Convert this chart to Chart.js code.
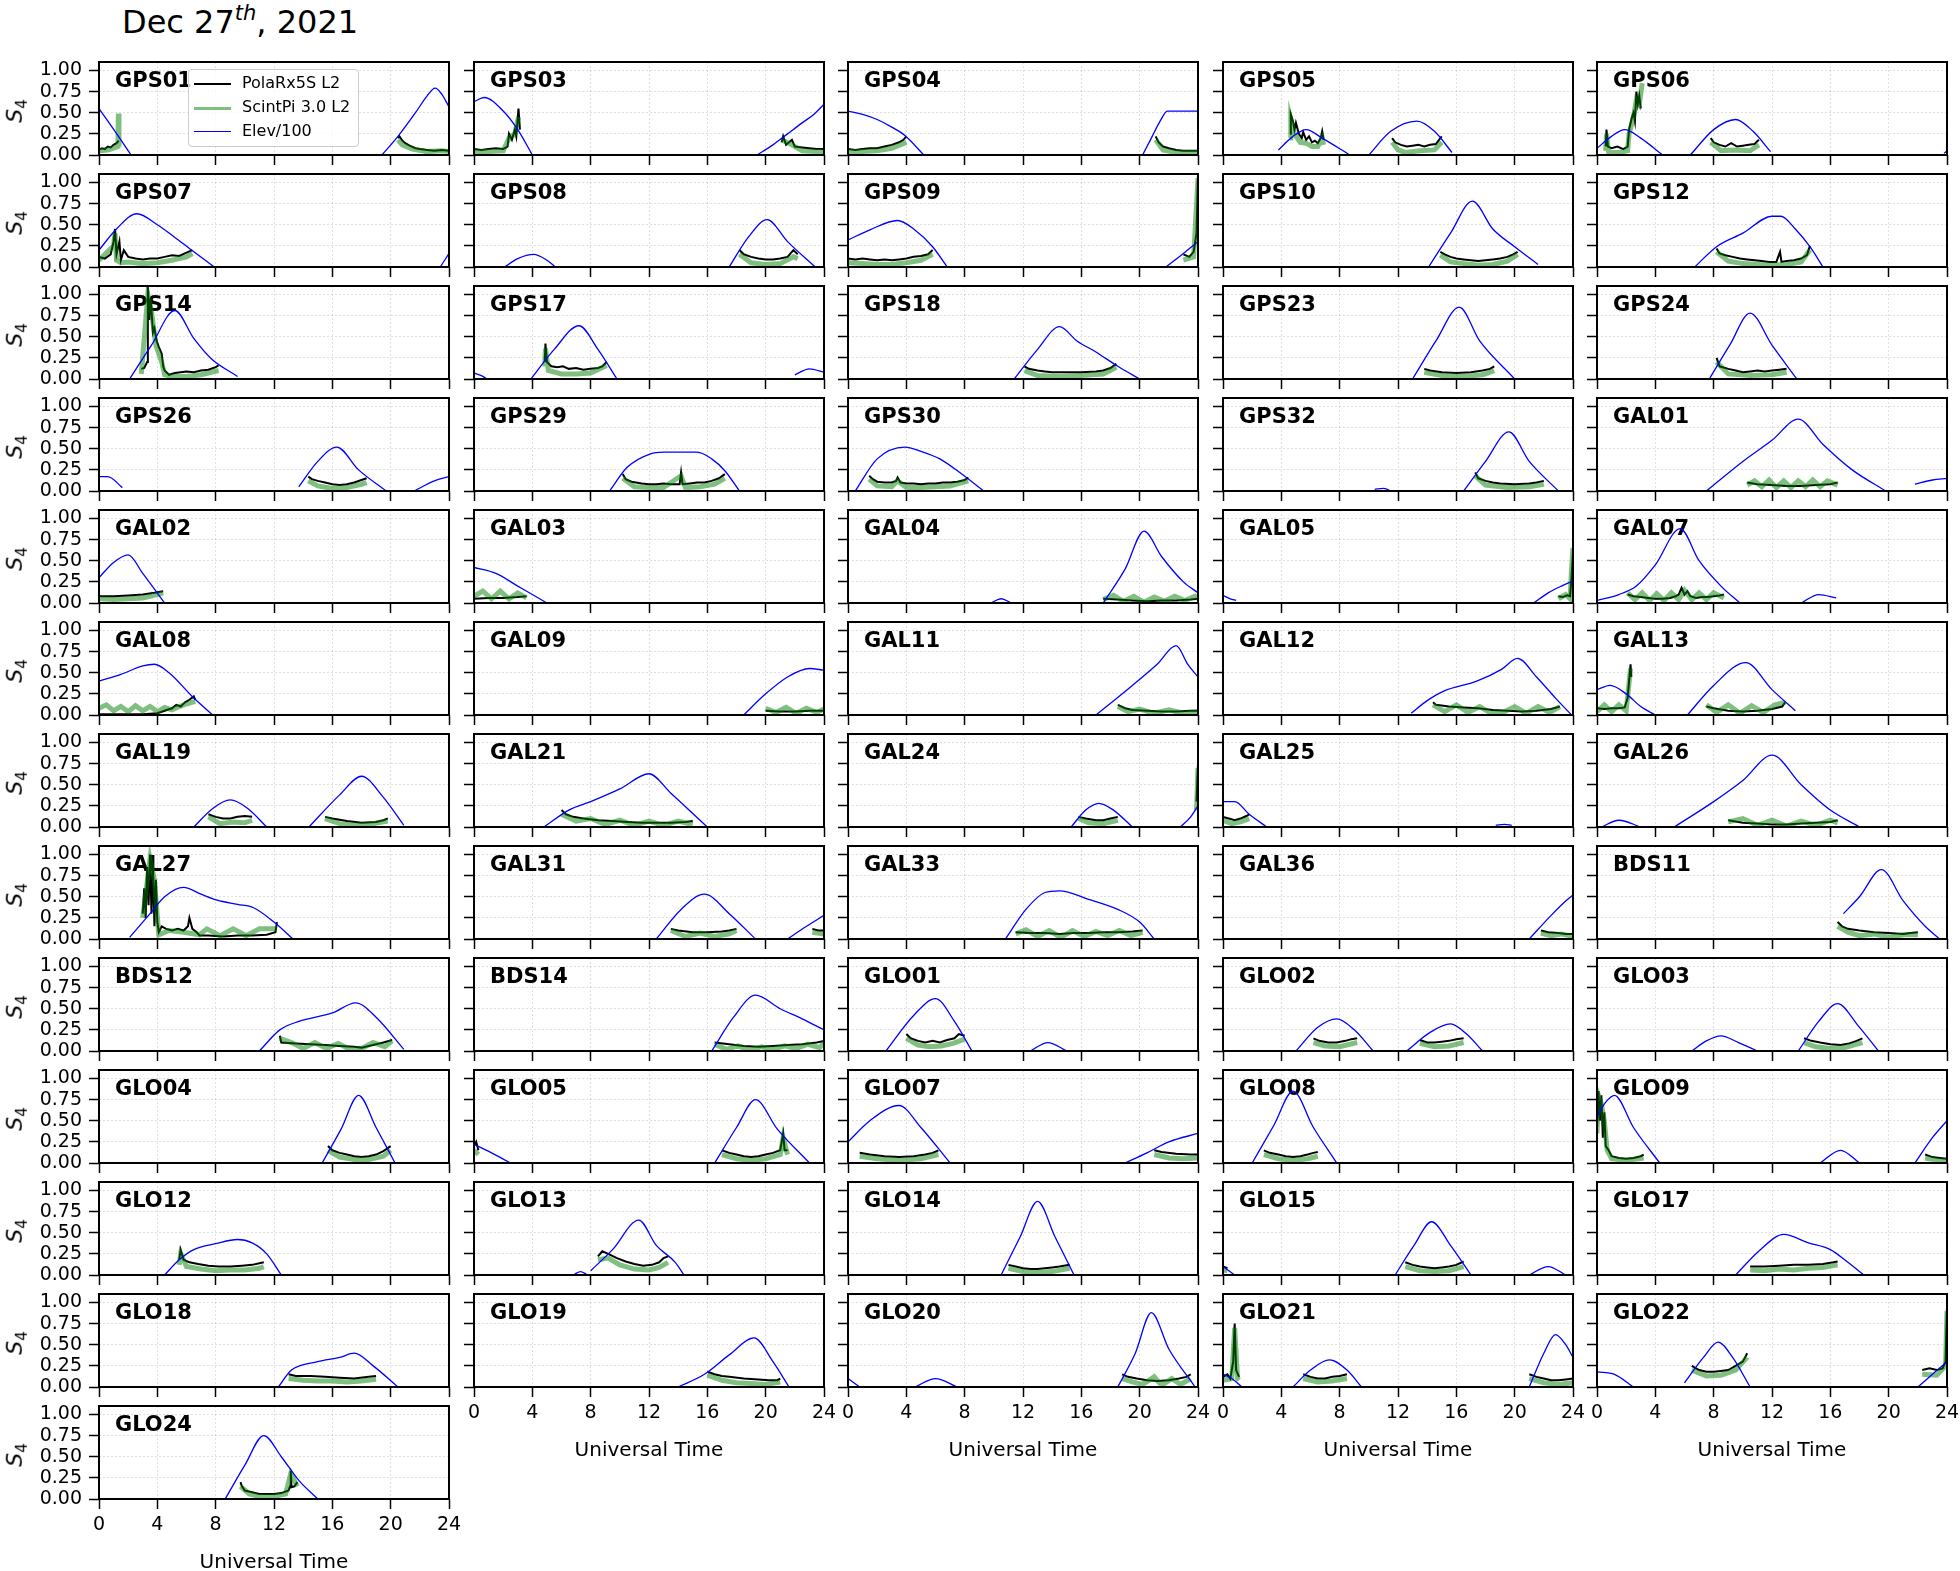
<!DOCTYPE html>
<html lang="en">
<head>
<meta charset="UTF-8" />
<title>S4 - Dec 27th, 2021</title>
<script src="https://cdn.jsdelivr.net/npm/chart.js"></script>
<style>
    body {
        margin: 0;
        background: #fff;
        font-family: 'DejaVu Sans', sans-serif;
    }
    #page {
        position: relative;
        width: 1960px;
        height: 1571px;
        overflow: hidden;
    }
    canvas {
        position: absolute;
    }
    .title {
        position: absolute;
        left: 122px;
        top: 6px;
        font-size: 32px;
        line-height: 1;
        white-space: nowrap;
    }
    .title .sup {
        font-size: 21px;
        font-style: italic;
        position: relative;
        top: -13px;
    }
    .ylab {
        position: absolute;
        font-size: 22px;
        line-height: 1;
        white-space: nowrap;
        transform: translate(-50%, -50%) rotate(-90deg);
    }
    .ylab sub {
        font-size: 15px;
    }
    .legend {
        position: absolute;
        left: 188px;
        top: 69px;
        width: 169px;
        height: 76px;
        border: 1px solid #cccccc;
        border-radius: 4px;
        background: rgba(255,255,255,0.8);
        font-size: 16px;
    }
    .legend .row {
        position: absolute;
        left: 0;
        height: 20px;
        line-height: 20px;
        white-space: nowrap;
    }
    .legend .hl {
        position: absolute;
        left: 5px;
        width: 37px;
        top: 10px;
    }
    .legend .txt {
        position: absolute;
        left: 53px;
    }
</style>
</head>
<body>
<div id="page">
    <div class="title">Dec 27<span class="sup">th</span>, 2021</div>
</div>

<script>
    const satNames = [
        'GPS01', 'GPS03', 'GPS04', 'GPS05', 'GPS06',
        'GPS07', 'GPS08', 'GPS09', 'GPS10', 'GPS12',
        'GPS14', 'GPS17', 'GPS18', 'GPS23', 'GPS24',
        'GPS26', 'GPS29', 'GPS30', 'GPS32', 'GAL01',
        'GAL02', 'GAL03', 'GAL04', 'GAL05', 'GAL07',
        'GAL08', 'GAL09', 'GAL11', 'GAL12', 'GAL13',
        'GAL19', 'GAL21', 'GAL24', 'GAL25', 'GAL26',
        'GAL27', 'GAL31', 'GAL33', 'GAL36', 'BDS11',
        'BDS12', 'BDS14', 'GLO01', 'GLO02', 'GLO03',
        'GLO04', 'GLO05', 'GLO07', 'GLO08', 'GLO09',
        'GLO12', 'GLO13', 'GLO14', 'GLO15', 'GLO17',
        'GLO18', 'GLO19', 'GLO20', 'GLO21', 'GLO22',
        'GLO24'
    ];

    const xTicks = [0, 4, 8, 12, 16, 20, 24];
    const yTicks = [0, 0.25, 0.5, 0.75, 1.0];

    // each pass: t, value, t, value ... (UT hours, elevation/100)
    const elevPasses = [
        [[0,.55, 1.1,.28, 2.2,0], [19.4,0, 20.5,.22, 21.7,.5, 22.5,.7, 23.05,.79, 23.5,.72, 24,.57]],
        [[0,.63, .7,.68, 2,.52, 3,.3, 4,0], [19.4,0, 20.5,.12, 21.5,.25, 22.5,.38, 23.3,.48, 24,.6]],
        [[0,.52, 1,.48, 2,.42, 3,.33, 3.9,.23, 5.2,0], [20.2,0, 20.8,.2, 21.4,.4, 21.9,.52, 24,.52]],
        [[3.8,.06, 4.8,.22, 5.7,.3, 6.8,.2, 8.7,0], [10,0, 11.5,.28, 13.3,.4, 14.5,.28, 15.7,.03]],
        [[0,.08, 1,.22, 1.9,.3, 3,.2, 4.5,0], [6.4,0, 8,.3, 9.5,.42, 10.7,.28, 11.9,.04], [23.8,.02, 24,.05]],
        [[0,.2, 1.2,.45, 2.6,.63, 4,.5, 5.2,.35, 6.2,.22, 7.9,0], [23.4,0, 24,.16]],
        [[2.1,0, 3,.1, 4.1,.15, 5,.08, 5.6,0], [17.5,0, 18.8,.35, 20.1,.56, 21.5,.3, 23.4,0]],
        [[0,.32, 1.5,.44, 3.4,.55, 4.5,.45, 5.8,.24, 6.8,0], [21.8,0, 23,.16, 24,.3]],
        [[14.1,0, 15.6,.4, 17.1,.78, 18.5,.45, 20,.24, 21.6,.03]],
        [[6.7,0, 8.2,.24, 10,.4, 12,.6, 12.6,.6, 13.6,.45, 14.6,.24, 15.5,0]],
        [[2.1,0, 3.6,.4, 5.2,.81, 6.5,.48, 7.7,.24, 9.5,.03]],
        [[0,.07, .5,.04, .9,0], [3.9,0, 5.5,.35, 7.2,.63, 8.5,.35, 9.8,0], [22,.05, 23,.12, 24,.08]],
        [[11.4,0, 13,.35, 14.5,.62, 15.7,.45, 17,.32, 18.5,.15, 20,0]],
        [[13,0, 14.6,.45, 16.2,.85, 17.6,.45, 20,0]],
        [[7.7,0, 9.1,.4, 10.5,.78, 12,.4, 13.7,0]],
        [[0,.17, .6,.17, 1.6,.04], [13.7,.05, 15,.35, 16.3,.52, 17.8,.25, 19.7,0], [21.6,0, 23,.12, 24,.17]],
        [[9.3,0, 10.5,.28, 12.1,.44, 13,.46, 15.3,.46, 16.3,.38, 17.2,.24, 18.2,0]],
        [[.5,0, 2,.38, 3.9,.52, 5,.47, 6.3,.38, 7.8,.2, 9.3,0]],
        [[10.4,.02, 11,.03, 11.4,.01], [16.5,0, 18,.35, 19.6,.7, 21,.35, 23,0]],
        [[7.5,0, 10,.35, 12,.6, 13.8,.85, 15.5,.55, 17.5,.25, 19.8,0], [21.8,.08, 23,.13, 24,.15]],
        [[0,.3, 1,.48, 2,.57, 3,.35, 4.5,0]],
        [[0,.42, 1.5,.35, 3,.2, 4,.1, 5,0]],
        [[9.8,0, 10.5,.05, 11.2,0], [17.5,0, 19,.4, 20.3,.85, 21.5,.55, 23,.25, 24,.12]],
        [[0,.09, .5,.05, .9,.03], [21.3,0, 22.3,.12, 23.2,.2, 24,.26]],
        [[0,.03, 1.5,.1, 2.7,.2, 4,.45, 5.7,.88, 7,.5, 8.5,.2, 9.8,0], [14,0, 15.2,.1, 16.4,.06]],
        [[0,.4, 1.5,.48, 3,.58, 3.8,.6, 4.8,.5, 6.5,.2, 7.8,0]],
        [[18.5,0, 20,.25, 21.5,.45, 23,.55, 24,.53]],
        [[17,0, 19.5,.35, 21.2,.6, 22.5,.82, 23.3,.6, 24,.45]],
        [[12.9,.02, 14,.17, 15.1,.28, 17.4,.4, 19.1,.54, 20.2,.67, 21.5,.45, 22.8,.2, 23.9,0]],
        [[0,.3, .9,.35, 2,.25, 3,.1, 4,0], [6.2,0, 8,.35, 10.2,.62, 12,.3, 13.6,.05]],
        [[6.5,0, 7.8,.22, 9,.32, 10.2,.22, 11.5,0], [14.4,0, 16.5,.38, 18,.6, 19.5,.35, 20.9,.02]],
        [[4.8,0, 6.5,.2, 8,.3, 10,.45, 12,.63, 13.5,.4, 16,0]],
        [[15.3,0, 16.3,.2, 17.2,.28, 18.2,.2, 19.5,0], [22.8,0, 23.5,.12, 24,.25]],
        [[0,.3, .8,.3, 1.8,.15, 3,0], [18.7,.02, 19.3,.03, 19.8,.02]],
        [[.3,0, 1.5,.08, 3,0], [5.3,0, 8,.3, 10,.55, 12,.85, 14,.5, 16,.2, 18,0]],
        [[2.1,.02, 3.5,.3, 4.5,.5, 5.8,.61, 7,.53, 8.1,.46, 9.5,.41, 10.6,.37, 12,.2, 13.3,0]],
        [[12.5,0, 14.2,.35, 15.8,.53, 17.5,.3, 19.3,0], [21.5,0, 22.8,.15, 24,.28]],
        [[10.8,0, 12.2,.35, 13.5,.55, 14.5,.57, 16.5,.47, 18.5,.35, 20,.2, 21,0]],
        [[21,0, 22.5,.28, 23.5,.45, 24,.52]],
        [[16.9,.3, 18,.5, 19.5,.82, 21,.45, 22.5,.15, 23.5,0]],
        [[11,0, 12.4,.25, 13.7,.35, 16,.45, 17.6,.57, 19,.4, 20.9,.02]],
        [[16.3,0, 17.8,.4, 19.3,.66, 21,.5, 22.5,.38, 24,.25]],
        [[2.6,0, 4.5,.42, 6,.62, 7.3,.35, 8.5,0], [12.5,0, 13.7,.1, 15,0]],
        [[5,0, 6.5,.28, 7.8,.38, 9,.25, 10.3,0], [12.6,0, 14.2,.22, 15.6,.32, 16.7,.2, 17.8,0]],
        [[6.5,0, 7.5,.12, 8.5,.18, 9.7,.1, 11,0], [13.8,0, 15.2,.35, 16.5,.56, 17.9,.3, 19.3,0]],
        [[15.3,0, 16.6,.4, 17.8,.8, 19,.42, 20.3,0]],
        [[0,.22, 1.2,.12, 2.5,0], [16.5,0, 18,.42, 19.3,.75, 20.8,.4, 23,0]],
        [[0,.25, 1.5,.5, 3.5,.68, 5,.42, 7,0], [19,0, 20.5,.12, 22,.25, 24,.35]],
        [[2,0, 3.5,.45, 4.8,.85, 6.2,.42, 7.8,0]],
        [[0,.55, .6,.72, 1.2,.8, 2.5,.42, 4.3,0], [15.3,0, 16.7,.15, 18,0], [21.8,0, 23,.3, 24,.5]],
        [[4.5,0, 5.5,.18, 6.5,.3, 8,.37, 9.5,.42, 10.5,.38, 11.5,.25, 12.5,0]],
        [[6.9,.01, 7.3,.04, 7.7,.01], [8,.05, 9.5,.3, 11.3,.65, 12.5,.35, 13.8,.15, 14.4,0]],
        [[10.5,0, 11.8,.45, 13,.87, 14.2,.45, 15.5,0]],
        [[0,.1, .8,0], [11.8,0, 13.1,.35, 14.3,.63, 15.6,.35, 17,0], [21,0, 22.3,.1, 23.5,0]],
        [[9.5,0, 11.2,.3, 12.8,.48, 14.5,.38, 16,.3, 17.2,.15, 18.3,0]],
        [[12.3,0, 13.2,.2, 15,.3, 16.5,.35, 17.5,.4, 18.8,.25, 20.5,0]],
        [[14,0, 15.8,.15, 17.5,.38, 19.2,.58, 20.5,.3, 21.6,0]],
        [[0,.1, .8,0], [4.6,0, 6,.1, 7.5,0], [18.5,0, 19.7,.4, 20.8,.88, 22,.45, 23.8,0]],
        [[0,.15, .6,.1, 1.3,0], [4.8,0, 6,.2, 7.3,.32, 8.5,.2, 9.5,0], [21,0, 22,.4, 22.8,.62, 23.5,.5, 24,.35]],
        [[0,.18, 1.2,.15, 2.5,0], [6,.05, 7.3,.35, 8.3,.53, 9.3,.35, 10.5,0], [22,0, 23,.15, 24,.3]],
        [[8.65,0, 10,.4, 11.3,.75, 12.5,.5, 13.7,.22, 15,0]]
    ];

    // PolaRx5S L2 S4
    const polarxS4 = [
        [[0,.06, .2,.08, .4,.07, .6,.1, .8,.09, 1,.12, 1.2,.14, 1.35,.17], [20.5,.2, 20.6,.22, 20.8,.17, 21,.14, 21.3,.11, 21.7,.08, 22,.07, 22.5,.06, 23,.05, 23.5,.06, 24,.05]],
        [[0,.07, .5,.06, 1,.07, 1.5,.08, 2,.07, 2.3,.1, 2.4,.25, 2.6,.18, 2.8,.3, 2.9,.22, 3.05,.55, 3.15,.3], [21.1,.15, 21.2,.22, 21.4,.12, 21.8,.18, 22,.1, 22.5,.09, 23,.08, 23.5,.07, 24,.07]],
        [[0,.07, .5,.06, 1,.07, 1.5,.08, 2,.08, 2.5,.1, 3,.12, 3.5,.15, 3.8,.18, 4,.22], [21.1,.22, 21.3,.15, 21.6,.1, 22,.08, 22.5,.06, 23,.05, 23.5,.05, 24,.05]],
        [[4.6,.25, 4.65,.48, 4.8,.4, 4.9,.3, 5,.38, 5.2,.25, 5.4,.2, 5.5,.27, 5.7,.18, 5.9,.22, 6.1,.15, 6.3,.17, 6.5,.14, 6.7,.2, 6.8,.28, 6.9,.18], [11.6,.2, 11.8,.15, 12.2,.12, 12.6,.1, 13,.11, 13.4,.12, 13.8,.1, 14.2,.12, 14.6,.13, 14.9,.2, 15,.22]],
        [[.6,.1, .65,.3, .75,.1, 1,.08, 1.4,.1, 1.8,.07, 2.1,.1, 2.2,.3, 2.4,.45, 2.5,.5, 2.6,.4, 2.7,.75, 2.8,.6, 2.9,.7, 3,.55], [7.8,.2, 8,.15, 8.4,.12, 8.8,.1, 9.2,.14, 9.6,.1, 10,.11, 10.4,.12, 10.8,.13, 11.1,.18]],
        [[0,.12, .4,.1, .8,.15, 1,.3, 1.1,.45, 1.2,.15, 1.4,.3, 1.5,.08, 1.7,.2, 2,.12, 2.5,.1, 3,.09, 3.5,.1, 4,.1, 4.5,.12, 5,.14, 5.5,.13, 6,.17, 6.4,.2]],
        [[18.2,.2, 18.5,.15, 19,.12, 19.5,.1, 20,.09, 20.5,.09, 21,.1, 21.5,.12, 21.9,.2, 22.2,.15]],
        [[0,.1, .5,.09, 1,.1, 1.5,.09, 2,.08, 2.5,.09, 3,.08, 3.5,.09, 4,.1, 4.5,.12, 5,.13, 5.5,.15, 5.8,.2], [23,.15, 23.4,.12, 23.7,.18, 23.9,.4, 24,1.1]],
        [[14.9,.18, 15.2,.15, 15.6,.12, 16,.1, 16.5,.09, 17,.08, 17.5,.07, 18,.08, 18.5,.09, 19,.1, 19.5,.12, 19.9,.15, 20.2,.18]],
        [[8.2,.22, 8.4,.16, 8.8,.14, 9.3,.12, 9.8,.1, 10.3,.09, 10.8,.08, 11.3,.07, 11.8,.06, 12.3,.06, 12.55,.18, 12.65,.06, 13,.07, 13.5,.08, 14,.1, 14.4,.14, 14.6,.25]],
        [[2.9,.12, 3.1,.13, 3.3,.2, 3.35,1.1, 3.45,.7, 3.55,.95, 3.7,.55, 3.8,.6, 3.95,.45, 4.1,.38, 4.3,.3, 4.4,.15, 4.5,.1, 4.8,.05, 5.2,.07, 5.6,.08, 6,.09, 6.5,.08, 7,.1, 7.5,.11, 8,.14, 8.2,.16]],
        [[4.85,.2, 4.9,.42, 5,.2, 5.3,.15, 5.7,.14, 6.1,.15, 6.5,.12, 7,.13, 7.5,.11, 8,.12, 8.5,.13, 8.8,.15, 9.1,.2]],
        [[12.1,.15, 12.4,.12, 13,.1, 13.5,.09, 14,.08, 15,.08, 16,.08, 17,.09, 17.5,.1, 18,.13, 18.4,.18]],
        [[13.8,.12, 14.2,.1, 15,.08, 16,.07, 17,.08, 17.8,.1, 18.3,.12, 18.6,.15]],
        [[8.2,.25, 8.4,.15, 9,.12, 9.5,.1, 10,.08, 10.5,.09, 11,.1, 11.5,.09, 12,.1, 12.5,.11, 13,.12]],
        [[14.35,.17, 14.6,.14, 15,.12, 15.5,.1, 16,.08, 16.5,.07, 17,.08, 17.5,.1, 18,.13, 18.35,.15]],
        [[10.2,.2, 10.4,.14, 10.8,.11, 11.5,.09, 12,.08, 12.5,.08, 13,.09, 13.5,.08, 14.1,.08, 14.2,.22, 14.3,.08, 14.8,.09, 15.3,.1, 15.8,.1, 16.3,.12, 16.8,.15, 17.2,.2]],
        [[1.45,.18, 1.7,.14, 2,.11, 2.5,.1, 3,.1, 3.3,.12, 3.4,.16, 3.6,.1, 4,.09, 4.5,.09, 5,.08, 5.5,.09, 6,.09, 6.5,.1, 7,.1, 7.5,.11, 8,.13, 8.25,.16]],
        [[17.3,.22, 17.5,.15, 18,.12, 18.5,.1, 19,.09, 20,.08, 21,.09, 21.5,.1, 22,.12]],
        [[10.3,.1, 11,.08, 12,.07, 13,.06, 14,.06, 15,.07, 16,.08, 16.5,.1]],
        [[0,.08, 1,.08, 2,.09, 3,.1, 3.8,.12, 4.4,.14]],
        [[0,.05, 1,.06, 2,.06, 3,.07, 3.6,.08]],
        [[17.5,.05, 18.5,.04, 19.5,.03, 20.5,.02, 21.5,.03, 22.5,.03, 23.5,.04, 24,.05]],
        [[23,.08, 23.3,.07, 23.6,.09, 23.8,.08, 23.9,.3, 24,.6]],
        [[2.1,.1, 2.5,.08, 3,.07, 3.5,.06, 4,.05, 4.5,.05, 5,.06, 5.4,.08, 5.6,.1, 5.8,.18, 6,.1, 6.2,.14, 6.4,.08, 6.8,.06, 7.2,.07, 7.6,.07, 8,.08, 8.4,.09, 8.7,.1]],
        [[0,.01, 1,.01, 2,.01, 3,.01, 4,.02, 4.5,.05, 5,.08, 5.3,.12, 5.6,.1, 5.9,.15, 6.2,.18, 6.5,.22, 6.6,.18]],
        [[20,.05, 21,.04, 22,.04, 23,.05, 24,.05]],
        [[18.5,.12, 19,.08, 19.5,.06, 20.5,.05, 21.5,.04, 22.5,.04, 23.5,.05, 24,.05]],
        [[14.4,.15, 14.6,.12, 15.5,.1, 16.5,.09, 17.5,.08, 18.5,.06, 19.5,.05, 20.5,.04, 21.5,.05, 22.5,.07, 23.1,.1]],
        [[0,.08, .5,.07, 1,.08, 1.5,.08, 1.9,.09, 2.1,.2, 2.2,.4, 2.3,.6, 2.35,.45], [7.5,.1, 8,.08, 9,.05, 10,.04, 11,.05, 12,.07, 12.7,.1, 12.9,.15]],
        [[7.5,.15, 8,.12, 8.5,.1, 9,.1, 9.5,.12, 10,.13, 10.5,.12], [15.5,.12, 16,.1, 17,.07, 18,.05, 19,.06, 19.5,.08, 19.8,.1]],
        [[6,.2, 6.3,.15, 6.8,.12, 7.5,.1, 8.5,.08, 9.5,.07, 10.5,.06, 11.5,.05, 12.5,.05, 13.5,.05, 14.5,.06, 15,.07]],
        [[15.8,.12, 16.3,.1, 17,.08, 17.5,.08, 18,.1, 18.5,.12], [23.9,.3, 24,.75]],
        [[0,.12, .4,.1, .8,.08, 1.2,.1, 1.6,.13, 1.8,.15]],
        [[9,.08, 10,.05, 11,.04, 12,.03, 13,.03, 14,.04, 15,.05, 16,.06, 16.5,.08]],
        [[3,.3, 3.1,.6, 3.2,.25, 3.3,.85, 3.4,.4, 3.5,1.0, 3.6,.3, 3.7,.9, 3.8,.15, 3.9,.7, 4,.2, 4.1,.08, 4.3,.15, 4.6,.12, 5,.1, 5.4,.12, 5.8,.1, 6.1,.15, 6.2,.25, 6.4,.12, 6.7,.08, 6.9,.04, 7.5,.04, 8.5,.03, 9.5,.04, 10.5,.04, 11.5,.05, 12.1,.08, 12.2,.2]],
        [[13.5,.12, 14,.1, 15,.08, 16,.08, 17,.09, 17.5,.1, 18,.12], [23.2,.12, 23.6,.1, 24,.1]],
        [[11.5,.08, 12.5,.07, 13.5,.07, 14.5,.06, 15.5,.07, 16.5,.07, 17.5,.08, 18.5,.08, 19.5,.09, 20.2,.1]],
        [[21.8,.1, 22.3,.08, 23,.07, 23.5,.06, 24,.06]],
        [[16.5,.2, 16.8,.15, 17.2,.12, 18,.1, 19,.08, 20,.07, 21,.06, 21.5,.07, 22,.08]],
        [[12.4,.18, 12.5,.1, 13.5,.09, 14.5,.08, 15.5,.07, 16.5,.06, 17.5,.05, 18,.04, 18.5,.06, 19.5,.1, 20.1,.13]],
        [[16.5,.1, 17.5,.08, 18.5,.06, 19.5,.05, 20.5,.06, 21.5,.07, 22.5,.08, 23.5,.1, 24,.12]],
        [[4,.2, 4.3,.15, 4.8,.12, 5.3,.1, 5.8,.12, 6.3,.1, 6.8,.13, 7.3,.15, 7.6,.2, 8,.18]],
        [[6.2,.15, 6.6,.12, 7.2,.1, 7.8,.1, 8.4,.12, 8.8,.14, 9.2,.15], [13.5,.13, 14,.1, 14.5,.1, 15,.11, 15.5,.12, 16,.14, 16.5,.15]],
        [[14.2,.15, 14.7,.12, 15.3,.1, 16,.08, 16.7,.07, 17.3,.09, 17.8,.12, 18.2,.15]],
        [[15.7,.2, 16,.15, 16.5,.12, 17,.1, 17.5,.08, 18,.07, 18.5,.08, 19,.1, 19.5,.14, 20,.2]],
        [[0,.2, .15,.25, .3,.15], [17,.15, 17.5,.12, 18,.1, 18.5,.08, 19,.07, 19.5,.08, 20,.1, 20.5,.12, 21,.15, 21.2,.35, 21.3,.15, 21.5,.15]],
        [[.8,.12, 1.5,.1, 2.5,.08, 3.5,.07, 4.5,.08, 5.3,.1, 5.8,.12, 6.2,.15], [21,.15, 21.5,.13, 22.5,.11, 23.5,.1, 24,.1]],
        [[2.8,.15, 3.2,.12, 3.8,.1, 4.3,.08, 4.8,.07, 5.3,.08, 5.8,.1, 6.2,.12, 6.5,.13]],
        [[0,.4, .1,.85, .2,.5, .3,.8, .4,.3, .5,.6, .6,.2, .8,.15, 1,.08, 1.5,.06, 2,.05, 2.5,.06, 3,.08, 3.2,.1], [22.5,.1, 23,.07, 23.5,.06, 24,.05]],
        [[5.5,.18, 5.6,.3, 5.8,.18, 6.2,.15, 6.8,.13, 7.5,.11, 8.2,.1, 9,.1, 9.8,.11, 10.5,.12, 11,.14, 11.3,.15]],
        [[8.5,.22, 8.8,.28, 9.2,.25, 9.8,.2, 10.4,.16, 11,.13, 11.6,.11, 12.2,.12, 12.7,.15, 13,.2, 13.3,.22]],
        [[11,.12, 11.5,.1, 12,.08, 12.5,.07, 13,.07, 13.5,.08, 14,.09, 14.5,.1, 15.2,.12]],
        [[0,.1, .3,.08], [12.5,.15, 13,.12, 13.5,.1, 14,.09, 14.5,.08, 15,.09, 15.5,.1, 16,.12, 16.5,.16]],
        [[10.5,.1, 11.5,.1, 12.5,.11, 13.5,.12, 14.5,.12, 15.5,.13, 16.2,.15, 16.5,.16]],
        [[13,.15, 13.5,.13, 14.5,.13, 15.5,.12, 16.5,.11, 17.5,.1, 18.5,.12, 19,.13]],
        [[16,.18, 16.5,.15, 17,.13, 17.5,.12, 18.5,.1, 19.5,.09, 20.2,.08, 20.8,.08, 21,.1]],
        [[18.8,.15, 19.2,.12, 19.8,.1, 20.5,.08, 21.2,.07, 22,.08, 22.7,.1, 23.2,.12, 23.5,.15]],
        [[0,.12, .3,.15, .5,.1, .7,.3, .8,.75, .9,.2, 1.1,.12], [5.5,.15, 6,.12, 6.5,.1, 7,.1, 7.5,.12, 8,.13, 8.5,.15], [21,.15, 21.5,.12, 22,.1, 22.5,.08, 23,.08, 23.5,.09, 24,.1]],
        [[6.5,.25, 7,.2, 7.5,.18, 8,.18, 8.5,.19, 9,.2, 9.5,.25, 10,.3, 10.3,.4], [22.3,.2, 22.8,.22, 23.3,.2, 23.7,.22, 23.9,.3, 24,.95]],
        [[9.7,.2, 9.8,.15, 10,.1, 10.5,.08, 11,.06, 11.5,.06, 12,.06, 12.5,.07, 13,.1, 13.1,.15, 13.15,.33, 13.2,.14, 13.4,.15, 13.6,.2]]
    ];

    // ScintPi 3.0 L2 S4
    const scintpiS4 = [
        [[0,.05, .6,.06, 1,.08, 1.3,.1, 1.33,.49, 1.37,.1], [20.5,.18, 20.8,.12, 21.5,.07, 22.5,.04, 23.5,.05, 24,.04]],
        [[0,.04, 1,.04, 2,.05, 2.4,.2, 2.8,.25, 3.05,.45], [21.1,.18, 21.8,.12, 22.5,.05, 23.5,.04, 24,.04]],
        [[0,.04, 1,.04, 2,.05, 3,.08, 4,.15], [21.1,.18, 21.6,.06, 22.5,.03, 24,.03]],
        [[4.6,.2, 4.65,.42, 4.9,.25, 5.3,.15, 5.7,.14, 6.1,.1, 6.5,.1, 6.8,.2, 6.9,.12], [11.6,.15, 12,.06, 12.5,.03, 13.5,.05, 14.5,.06, 15,.15]],
        [[.6,.05, .65,.25, .8,.03, 1.5,.03, 2.1,.05, 2.2,.25, 2.5,.45, 2.7,.65, 2.9,.6, 3.1,.85], [7.8,.15, 8.5,.05, 9.5,.06, 10.5,.05, 11.1,.12]],
        [[0,.08, 1,.25, 1.1,.4, 1.2,.08, 1.5,.05, 2,.06, 3,.04, 4,.05, 5,.08, 6,.12, 6.4,.16]],
        [[18.2,.15, 19,.05, 20,.03, 21,.04, 21.9,.12, 22.2,.1]],
        [[0,.05, 1,.04, 2,.03, 3,.03, 4,.05, 5,.08, 5.8,.15], [23,.08, 23.7,.12, 24,1.05]],
        [[14.9,.14, 15.6,.06, 16.5,.04, 17.5,.02, 18.5,.03, 19.5,.07, 20.2,.15]],
        [[8.2,.18, 9,.07, 10,.04, 11,.03, 12,.02, 13,.03, 14,.06, 14.6,.2]],
        [[2.9,.06, 3.35,1.0, 3.6,.8, 3.9,.4, 4.3,.2, 4.5,.05, 5,.03, 6,.03, 7,.05, 8.2,.1]],
        [[4.85,.15, 4.9,.36, 5.1,.1, 6,.06, 7,.06, 8,.07, 9.1,.16]],
        [[12.1,.1, 13,.04, 14.5,.03, 16,.04, 17.5,.06, 18.4,.14]],
        [[13.8,.08, 15,.04, 16.5,.03, 17.8,.05, 18.6,.1]],
        [[8.2,.2, 9,.06, 10.5,.04, 12,.05, 13,.08]],
        [[14.35,.12, 15,.06, 16,.03, 17,.04, 18,.08, 18.35,.1]],
        [[10.2,.15, 11,.05, 12,.04, 13,.04, 14.2,.18, 14.5,.04, 15.5,.05, 16.5,.08, 17.2,.15]],
        [[1.45,.14, 2,.06, 3,.05, 3.4,.12, 4,.04, 5,.04, 6,.05, 7,.06, 8.25,.12]],
        [[17.3,.18, 18,.07, 19.5,.04, 21,.05, 22,.08]],
        [[10.3,.07, 10.8,.12, 11.3,.05, 11.8,.13, 12.3,.04, 12.8,.12, 13.3,.04, 13.8,.12, 14.3,.05, 14.8,.13, 15.3,.05, 15.8,.12, 16.5,.07]],
        [[0,.05, 1,.04, 2,.05, 3,.06, 4,.1, 4.4,.12]],
        [[0,.08, .6,.14, 1.2,.05, 1.8,.14, 2.4,.05, 3,.12, 3.6,.06]],
        [[17.5,.04, 18.2,.09, 18.9,.02, 19.6,.08, 20.3,.01, 21,.07, 21.7,.02, 22.4,.08, 23.1,.03, 23.8,.08, 24,.05]],
        [[23,.05, 23.5,.1, 23.8,.05, 23.9,.4, 24,.65]],
        [[2.1,.12, 2.6,.04, 3.1,.12, 3.6,.03, 4.1,.11, 4.6,.03, 5.1,.12, 5.6,.04, 6,.15, 6.5,.04, 7,.12, 7.5,.04, 8,.12, 8.7,.06]],
        [[0,.08, .5,.12, 1,.05, 1.5,.1, 2,.04, 2.5,.11, 3,.05, 3.5,.1, 4,.04, 4.5,.09, 5,.06, 5.5,.1, 6,.13, 6.6,.16]],
        [[20,.08, 20.7,.03, 21.4,.09, 22.1,.02, 22.8,.08, 23.5,.03, 24,.07]],
        [[18.5,.1, 19.2,.04, 20,.07, 21,.02, 22,.06, 23,.02, 24,.04]],
        [[14.4,.12, 15.2,.04, 16,.12, 16.8,.03, 17.6,.1, 18.4,.02, 19.2,.03, 20,.1, 20.8,.02, 21.6,.1, 22.4,.03, 23.1,.1]],
        [[0,.04, .5,.12, 1,.04, 1.5,.12, 2,.05, 2.3,.55], [7.5,.12, 8.2,.03, 9,.12, 9.8,.02, 10.6,.11, 11.4,.03, 12.2,.12, 12.9,.15]],
        [[7.5,.12, 8.3,.04, 9.2,.06, 10,.05, 10.5,.08], [15.5,.1, 16.5,.04, 17.5,.02, 18.5,.03, 19.8,.07]],
        [[6,.15, 7,.07, 8,.1, 9,.03, 10,.08, 11,.02, 12,.07, 13,.02, 14,.07, 15,.03]],
        [[15.8,.1, 16.5,.05, 17.5,.04, 18.5,.08], [23.9,.2, 24,.7]],
        [[0,.08, .6,.04, 1.2,.06, 1.8,.1]],
        [[9,.06, 10,.1, 11,.02, 12,.08, 13,.01, 14,.07, 15,.02, 16,.08, 16.5,.05]],
        [[3,.25, 3.5,.95, 3.8,.7, 4.1,.05, 4.8,.1, 5.8,.08, 6.9,.05, 7.4,.12, 8.3,.04, 9.2,.12, 10.1,.04, 11,.12, 12.2,.12]],
        [[13.5,.1, 14.5,.03, 15.5,.07, 16.5,.03, 17.5,.06, 18,.1], [23.2,.08, 24,.06]],
        [[11.5,.06, 12.2,.11, 13,.03, 13.8,.1, 14.6,.02, 15.4,.1, 16.2,.03, 17,.09, 17.8,.04, 18.6,.1, 19.4,.04, 20.2,.08]],
        [[21.8,.07, 22.5,.04, 23.2,.06, 24,.03]],
        [[16.5,.15, 17.2,.08, 18,.04, 19,.06, 20,.02, 21,.05, 22,.05]],
        [[12.4,.15, 13.2,.1, 14,.03, 14.8,.1, 15.6,.03, 16.4,.09, 17.2,.02, 18,.03, 18.8,.1, 19.6,.05, 20.1,.12]],
        [[16.5,.08, 17.3,.02, 18.1,.06, 18.9,.01, 19.7,.05, 20.5,.02, 21.3,.06, 22.1,.03, 22.9,.08, 23.7,.04, 24,.1]],
        [[4,.15, 4.8,.07, 5.6,.05, 6.4,.06, 7.2,.09, 8,.14]],
        [[6.2,.1, 7,.06, 8,.05, 9.2,.1], [13.5,.09, 14.5,.05, 15.5,.06, 16.5,.1]],
        [[14.2,.1, 15,.05, 16,.03, 17,.04, 18.2,.1]],
        [[15.7,.15, 16.5,.07, 17.5,.04, 18.5,.04, 19.5,.08, 20,.15]],
        [[0,.15, .3,.1], [17,.1, 18,.05, 19,.03, 20,.05, 21,.1, 21.2,.3, 21.5,.1]],
        [[.8,.08, 2,.05, 3.5,.03, 5,.05, 6.2,.1], [21,.1, 22,.06, 23,.05, 24,.06]],
        [[2.8,.1, 3.8,.05, 4.8,.03, 5.8,.05, 6.5,.08]],
        [[0,.35, .1,.8, .3,.7, .5,.5, .7,.15, 1,.05, 2,.03, 3.2,.06], [22.5,.06, 23.5,.03, 24,.03]],
        [[5.5,.12, 5.6,.25, 6,.1, 7,.07, 8,.05, 9,.06, 10,.06, 11,.08, 11.3,.1]],
        [[8.5,.18, 9.2,.2, 10,.12, 11,.07, 12,.06, 12.7,.09, 13.3,.15]],
        [[11,.08, 12,.04, 13,.03, 14,.04, 15.2,.08]],
        [[0,.06, .3,.05], [12.5,.1, 13.5,.05, 14.5,.04, 15.5,.05, 16.5,.1]],
        [[10.5,.06, 11.5,.05, 12.5,.07, 13.5,.06, 14.5,.08, 15.5,.09, 16.5,.12]],
        [[13,.1, 14,.08, 15,.07, 16,.07, 17,.06, 18,.07, 19,.09]],
        [[16,.14, 17,.08, 18,.05, 19,.04, 20,.03, 21,.06]],
        [[18.8,.1, 19.5,.06, 20.2,.03, 21,.12, 21.5,.02, 22.2,.1, 22.8,.03, 23.5,.1]],
        [[0,.08, .6,.1, .8,.7, 1,.1, 1.1,.08], [5.5,.1, 6.5,.06, 7.5,.07, 8.5,.1], [21,.1, 22,.05, 23,.03, 24,.05]],
        [[6.5,.2, 7.5,.13, 8.5,.14, 9.5,.2, 10.3,.35], [22.3,.15, 23.3,.14, 23.9,.25, 24,.9]],
        [[9.7,.15, 10.3,.06, 11,.03, 12,.03, 12.8,.06, 13.15,.3, 13.6,.15]]
    ];

    Chart.defaults.font.family = "'DejaVu Sans', sans-serif";
    Chart.defaults.color = '#000';

    const page = document.getElementById('page');

    function toPoints(segs) {
        const pts = [];
        segs.forEach((seg, k) => {
            if (k > 0) pts.push({ x: seg[0], y: null });
            for (let i = 0; i < seg.length; i += 2) {
                pts.push({ x: seg[i], y: seg[i + 1] });
            }
        });
        return pts;
    }

    // frame around each panel + satellite name
    const framePlugin = {
        id: 'frame',
        beforeDatasetsDraw(chart, args, opts) {
            const { ctx, chartArea } = chart;
            ctx.save();
            ctx.font = "bold 21px 'DejaVu Sans', sans-serif";
            ctx.fillStyle = '#000';
            ctx.textBaseline = 'alphabetic';
            ctx.fillText(opts.name, chartArea.left + 16, chartArea.top + 25);
            ctx.restore();
        },
        afterDatasetsDraw(chart) {
            const { ctx, chartArea } = chart;
            ctx.save();
            ctx.strokeStyle = '#000';
            ctx.lineWidth = 2;
            ctx.strokeRect(chartArea.left, chartArea.top,
                chartArea.right - chartArea.left, chartArea.bottom - chartArea.top);
            ctx.restore();
        }
    };

    const PAD_LEFT = 99, PAD_TOP = 12, PAD_RIGHT = 12, PAD_BOTTOM = 80;
    const PANEL_W = 350, PANEL_H = 93;

    // keep every panel's plot box exactly where it belongs
    function fixBox(s, size) {
        if (s.isHorizontal()) s.height = size; else s.width = size;
        s.paddingTop = 0;
        s.paddingBottom = 0;
        s.paddingLeft = 0;
        s.paddingRight = 0;
    }

    satNames.forEach((name, i) => {
        const col = i % 5;
        const row = Math.floor(i / 5);
        const left = Math.round(99 + 374.5 * col);
        const top = 62 + 112 * row;
        const isBottom = i + 5 >= satNames.length;
        const isLeft = col === 0;

        const cv = document.createElement('canvas');
        cv.width = PAD_LEFT + PANEL_W + PAD_RIGHT;
        cv.height = PAD_TOP + PANEL_H + PAD_BOTTOM;
        cv.style.left = (left - PAD_LEFT) + 'px';
        cv.style.top = (top - PAD_TOP) + 'px';
        page.appendChild(cv);

        if (isLeft) {
            const yl = document.createElement('div');
            yl.className = 'ylab';
            yl.style.left = '17px';
            yl.style.top = (top + PANEL_H / 2 + 2) + 'px';
            yl.innerHTML = '<i>S</i><sub>4</sub>';
            page.appendChild(yl);
        }

        new Chart(cv, {
            type: 'line',
            data: {
                datasets: [
                    {
                        label: 'Elev/100',
                        data: toPoints(elevPasses[i]),
                        borderColor: '#0000ff',
                        borderWidth: 1.3,
                        pointRadius: 0,
                        cubicInterpolationMode: 'monotone',
                        order: 1
                    },
                    {
                        label: 'ScintPi 3.0 L2',
                        data: toPoints(scintpiS4[i]),
                        borderColor: 'rgba(0,128,0,0.5)',
                        borderWidth: 5,
                        pointRadius: 0,
                        order: 2
                    },
                    {
                        label: 'PolaRx5S L2',
                        data: toPoints(polarxS4[i]),
                        borderColor: '#000000',
                        borderWidth: 2,
                        pointRadius: 0,
                        order: 3
                    }
                ]
            },
            options: {
                responsive: false,
                animation: false,
                events: [],
                layout: { padding: { top: PAD_TOP, right: PAD_RIGHT, left: 0, bottom: 0 } },
                plugins: {
                    legend: { display: false },
                    tooltip: { enabled: false },
                    frame: { name: name }
                },
                scales: {
                    x: {
                        type: 'linear',
                        min: 0,
                        max: 24,
                        afterBuildTicks: s => { s.ticks = xTicks.map(v => ({ value: v })); },
                        afterFit: s => fixBox(s, PAD_BOTTOM),
                        ticks: {
                            color: isBottom ? '#000' : 'rgba(0,0,0,0)',
                            font: { size: 19 },
                            padding: 5,
                            maxRotation: 0,
                            autoSkip: false,
                            callback: v => String(v)
                        },
                        grid: {
                            color: 'rgba(0,0,0,0.16)',
                            lineWidth: 0.8,
                            tickColor: '#000',
                            tickLength: 10,
                            tickWidth: 1.5
                        },
                        border: { display: false, dash: [2, 2] },
                        title: {
                            display: isBottom,
                            text: 'Universal Time',
                            font: { size: 20 },
                            padding: { top: 0, bottom: 4 }
                        }
                    },
                    y: {
                        type: 'linear',
                        min: 0,
                        max: 1.1,
                        afterBuildTicks: s => { s.ticks = yTicks.map(v => ({ value: v })); },
                        afterFit: s => fixBox(s, PAD_LEFT),
                        ticks: {
                            color: isLeft ? '#000' : 'rgba(0,0,0,0)',
                            font: { size: 19 },
                            padding: 7,
                            autoSkip: false,
                            callback: v => v.toFixed(2)
                        },
                        grid: {
                            color: 'rgba(0,0,0,0.16)',
                            lineWidth: 0.8,
                            tickColor: '#000',
                            tickLength: 10,
                            tickWidth: 1.5
                        },
                        border: { display: false, dash: [2, 2] }
                    }
                }
            },
            plugins: [framePlugin]
        });
    });

    // legend in the first panel
    const legend = document.createElement('div');
    legend.className = 'legend';
    legend.innerHTML =
        '<div class="row" style="top:3px"><span class="hl" style="border-top:2px solid #000"></span><span class="txt">PolaRx5S L2</span></div>' +
        '<div class="row" style="top:27px"><span class="hl" style="border-top:3px solid rgba(0,128,0,0.5)"></span><span class="txt">ScintPi 3.0 L2</span></div>' +
        '<div class="row" style="top:51px"><span class="hl" style="border-top:1.5px solid #0000ff"></span><span class="txt">Elev/100</span></div>';
    page.appendChild(legend);
</script>
</body>
</html>
